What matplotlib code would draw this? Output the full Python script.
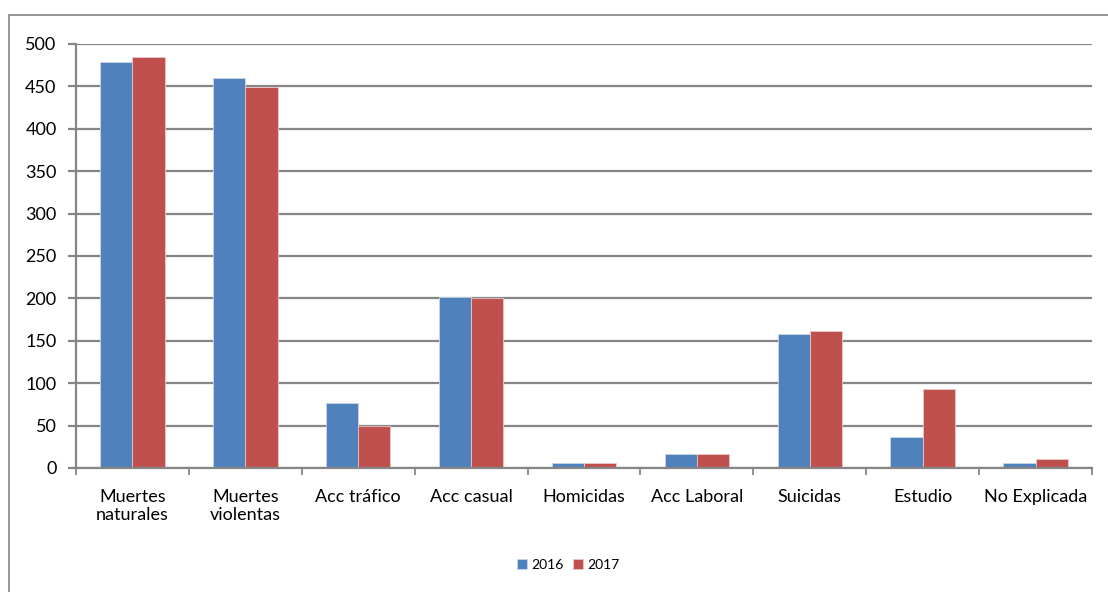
import numpy as np
import matplotlib.pyplot as plt
from matplotlib.patches import Rectangle

# datos
categorias = ['Muertes\nnaturales', 'Muertes\nviolentas', 'Acc tráfico', 'Acc casual',
              'Homicidas', 'Acc Laboral', 'Suicidas', 'Estudio', 'No Explicada']
valores_2016 = [479, 460, 77, 202, 6, 16, 158, 37, 6]
valores_2017 = [485, 449, 50, 200, 6, 17, 161, 93, 11]
y_ticks = [0, 50, 100, 150, 200, 250, 300, 350, 400, 450, 500]

plt.rcParams['font.family'] = ['Lato', 'DejaVu Sans']

fig = plt.figure(figsize=(11.08, 5.92), dpi=100)
ax = fig.add_axes([76 / 1108, 124 / 592, 1016 / 1108, 424 / 592])

gris = '#868686'
x = np.arange(len(categorias))
width = 0.2857

ax.bar(x - width / 2, valores_2016, width, color='#4F81BD', edgecolor='#c9d6e8',
       linewidth=0.6, label='2016', zorder=3)
ax.bar(x + width / 2, valores_2017, width, color='#C0504D', edgecolor='#e8c8c7',
       linewidth=0.6, label='2017', zorder=3)

ax.set_xlim(-0.5, len(categorias) - 0.5)
ax.set_ylim(0, 500)
ax.set_yticks(y_ticks)
ax.set_yticklabels([str(v) for v in y_ticks], fontsize=13)
ax.yaxis.grid(True, color=gris, linewidth=1.6, zorder=0)

# etiquetas centradas, marcas entre categorias
ax.set_xticks(x)
ax.set_xticklabels(categorias, fontsize=13, linespacing=1.2)
ax.set_xticks(np.arange(len(categorias) + 1) - 0.5, minor=True)
ax.tick_params(axis='x', which='major', length=0, pad=15)
ax.tick_params(axis='x', which='minor', length=5, color=gris, width=1.3)
ax.tick_params(axis='y', length=6, color=gris, width=1.6, pad=8)

for s in ['top', 'right']:
    ax.spines[s].set_visible(False)
for s in ['left', 'bottom']:
    ax.spines[s].set_color(gris)
    ax.spines[s].set_linewidth(1.6)
ax.spines['bottom'].set_zorder(4)

leg = fig.legend(loc='center', bbox_to_anchor=(568 / 1108, 1 - 565 / 592), ncol=2,
                 frameon=False, fontsize=10, handlelength=0.7, handleheight=0.7,
                 handletextpad=0.3, columnspacing=0.7)

# borde exterior del grafico
fig.patches.append(Rectangle((9 / 1108, -0.05), 1.2, 1.05 - 15 / 592,
                             transform=fig.transFigure, fill=False,
                             edgecolor=gris, linewidth=1.2))

plt.savefig('out.png', dpi=100)
plt.close()
